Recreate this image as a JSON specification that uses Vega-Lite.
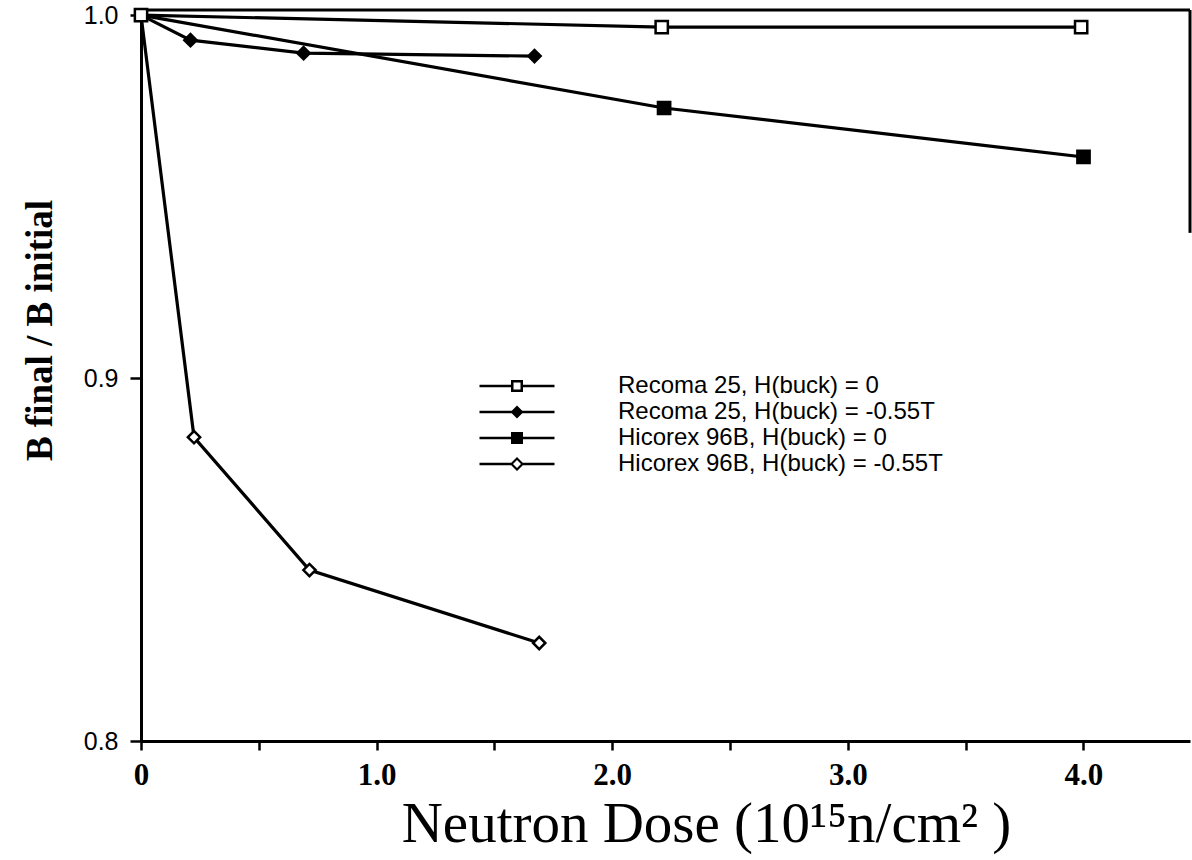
{
  "$schema": "https://vega.github.io/schema/vega-lite/v6.json",
  "width": 1049,
  "height": 731,
  "autosize": {"type": "none"},
  "padding": {"left": 141, "top": 10, "right": 2, "bottom": 119},
  "background": "white",
  "config": {"view": {"stroke": null}},
  "data": {
    "values": [
      {"series": "Recoma 25, H(buck) = 0", "dose": 0, "ratio": 1.0},
      {"series": "Recoma 25, H(buck) = 0", "dose": 2.21, "ratio": 0.9967},
      {"series": "Recoma 25, H(buck) = 0", "dose": 3.99, "ratio": 0.9967},
      {"series": "Recoma 25, H(buck) = -0.55T", "dose": 0, "ratio": 1.0},
      {"series": "Recoma 25, H(buck) = -0.55T", "dose": 0.21, "ratio": 0.9931},
      {"series": "Recoma 25, H(buck) = -0.55T", "dose": 0.69, "ratio": 0.9895},
      {"series": "Recoma 25, H(buck) = -0.55T", "dose": 1.67, "ratio": 0.9887},
      {"series": "Hicorex 96B, H(buck) = 0", "dose": 0, "ratio": 1.0},
      {"series": "Hicorex 96B, H(buck) = 0", "dose": 2.22, "ratio": 0.9744},
      {"series": "Hicorex 96B, H(buck) = 0", "dose": 4.0, "ratio": 0.9609},
      {"series": "Hicorex 96B, H(buck) = -0.55T", "dose": 0, "ratio": 1.0},
      {"series": "Hicorex 96B, H(buck) = -0.55T", "dose": 0.225, "ratio": 0.8837},
      {"series": "Hicorex 96B, H(buck) = -0.55T", "dose": 0.715, "ratio": 0.8471},
      {"series": "Hicorex 96B, H(buck) = -0.55T", "dose": 1.69, "ratio": 0.827}
    ]
  },
  "resolve": {"scale": {"shape": "independent", "fill": "independent"}, "legend": {"shape": "independent", "fill": "independent"}},
  "layer": [
    {
      "data": {"values": [{}]},
      "mark": {"type": "rule", "color": "black", "strokeWidth": 3},
      "encoding": {"y": {"datum": 1.0014, "type": "quantitative"}}
    },
    {
      "data": {"values": [{}]},
      "mark": {"type": "rule", "color": "black", "strokeWidth": 3},
      "encoding": {
        "x": {"datum": 4.452, "type": "quantitative"},
        "y": {"datum": 1.0014, "type": "quantitative"},
        "y2": {"datum": 0.94}
      }
    },
    {
      "mark": {"type": "line", "color": "black", "strokeWidth": 3.2},
      "encoding": {
        "x": {
          "field": "dose",
          "type": "quantitative",
          "scale": {"domain": [0, 4.452], "nice": false, "zero": false},
          "axis": {
            "title": "Neutron Dose (10¹⁵n/cm² )",
            "values": [0, 0.5, 1, 1.5, 2, 2.5, 3, 3.5, 4],
            "labelExpr": "datum.value % 1 != 0 ? '' : (datum.value == 0 ? '0' : format(datum.value, '.1f'))",
            "grid": false,
            "domainColor": "black",
            "domainWidth": 3,
            "tickColor": "black",
            "tickWidth": 2.5,
            "tickSize": 9,
            "labelFont": "Liberation Serif",
            "labelFontWeight": "bold",
            "labelFontSize": 31,
            "labelColor": "black",
            "labelPadding": 10,
            "labelFlush": false,
            "titleFont": "Liberation Serif",
            "titleFontWeight": "normal",
            "titleFontSize": 57,
            "titleColor": "black",
            "titleX": 565,
            "titleY": 55
          }
        },
        "y": {
          "field": "ratio",
          "type": "quantitative",
          "scale": {"domain": [0.8, 1.0014], "nice": false, "zero": false},
          "axis": {
            "title": "B final / B initial",
            "values": [0.8, 0.9, 1.0],
            "format": ".1f",
            "grid": false,
            "domainColor": "black",
            "domainWidth": 3,
            "tickColor": "black",
            "tickWidth": 2.5,
            "tickSize": 11,
            "labelFont": "Liberation Sans",
            "labelFontSize": 25,
            "labelColor": "black",
            "labelPadding": 12,
            "labelFlush": false,
            "titleFont": "Liberation Serif",
            "titleFontWeight": "bold",
            "titleFontSize": 37,
            "titleColor": "black",
            "titleAngle": 270,
            "titleBaseline": "middle",
            "titleX": -101,
            "titleY": 320
          }
        },
        "detail": {"field": "series"}
      }
    },
    {
      "transform": [
        {"filter": "datum.dose > 0 || datum.series == 'Recoma 25, H(buck) = 0'"}
      ],
      "mark": {"type": "point", "stroke": "black", "strokeWidth": 2.5, "opacity": 1, "size": 150},
      "encoding": {
        "x": {"field": "dose", "type": "quantitative"},
        "y": {"field": "ratio", "type": "quantitative"},
        "shape": {
          "field": "series",
          "type": "nominal",
          "scale": {
            "domain": ["Recoma 25, H(buck) = 0", "Recoma 25, H(buck) = -0.55T", "Hicorex 96B, H(buck) = 0", "Hicorex 96B, H(buck) = -0.55T"],
            "range": ["square", "diamond", "square", "diamond"]
          },
          "legend": null
        },
        "fill": {
          "field": "series",
          "type": "nominal",
          "scale": {
            "domain": ["Recoma 25, H(buck) = 0", "Recoma 25, H(buck) = -0.55T", "Hicorex 96B, H(buck) = 0", "Hicorex 96B, H(buck) = -0.55T"],
            "range": ["white", "black", "black", "white"]
          },
          "legend": null
        }
      }
    },
    {
      "transform": [{"filter": "false"}],
      "mark": {"type": "point", "filled": true, "color": "black", "strokeWidth": 0, "opacity": 1, "size": 100},
      "encoding": {
        "x": {"field": "dose", "type": "quantitative"},
        "y": {"field": "ratio", "type": "quantitative"},
        "shape": {
          "field": "series",
          "type": "nominal",
          "scale": {
            "domain": ["Recoma 25, H(buck) = 0", "Recoma 25, H(buck) = -0.55T", "Hicorex 96B, H(buck) = 0", "Hicorex 96B, H(buck) = -0.55T"],
            "range": [
              "M-7.5,-0.25H-1.2V0.25H-7.5ZM1.2,-0.25H7.5V0.25H1.2ZM-1.2,-1.2H1.2V1.2H-1.2ZM-0.7,-0.7V0.7H0.7V-0.7Z",
              "M-7.5,-0.25H7.5V0.25H-7.5ZM0,-1.3L1.3,0L0,1.3L-1.3,0Z",
              "M-7.5,-0.25H7.5V0.25H-7.5ZM-1.2,-1.2H1.2V1.2H-1.2Z",
              "M-7.5,-0.25H-1.1V0.25H-7.5ZM1.1,-0.25H7.5V0.25H1.1ZM0,-1.4L1.4,0L0,1.4L-1.4,0ZM0,-0.8L-0.8,0L0,0.8L0.8,0Z"
            ]
          },
          "legend": {
            "title": null,
            "orient": "none",
            "legendX": 364,
            "legendY": 364,
            "labelFont": "Liberation Sans",
            "labelFontSize": 24,
            "labelColor": "black",
            "labelOffset": 89,
            "labelLimit": 600,
            "symbolSize": 100,
            "symbolFillColor": "black",
            "symbolStrokeWidth": 0,
            "symbolOpacity": 1,
            "rowPadding": 2,
            "padding": 0
          }
        }
      }
    }
  ]
}
